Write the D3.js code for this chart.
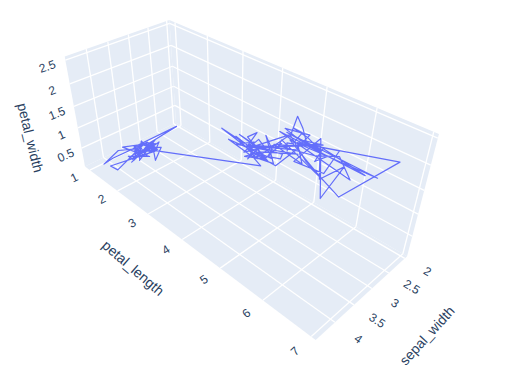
<!DOCTYPE html>
<html>
<head>
<meta charset="utf-8">
<title>Iris 3D line</title>
<script src="https://cdn.jsdelivr.net/npm/d3@7"></script>
<style>
  body { margin: 0; background: #fff; }
  text { font-family: "Liberation Sans", Arial, sans-serif; fill: #2a3f5f; text-anchor: middle; dominant-baseline: central; }
</style>
</head>
<body>
<script>
var width = 505,
  height = 376;

var petalLength = [
  1.4,1.4,1.3,1.5,1.4,1.7,1.4,1.5,1.4,1.5,1.5,1.6,1.4,1.1,1.2,1.5,1.3,1.4,1.7,1.5,1.7,1.5,1.0,1.7,1.9,
  1.6,1.6,1.5,1.4,1.6,1.6,1.5,1.5,1.4,1.5,1.2,1.3,1.5,1.3,1.5,1.3,1.3,1.3,1.6,1.9,1.4,1.6,1.4,1.5,1.4,
  4.7,4.5,4.9,4.0,4.6,4.5,4.7,3.3,4.6,3.9,3.5,4.2,4.0,4.7,3.6,4.4,4.5,4.1,4.5,3.9,4.8,4.0,4.9,4.7,4.3,
  4.4,4.8,5.0,4.5,3.5,3.8,3.7,3.9,5.1,4.5,4.5,4.7,4.4,4.1,4.0,4.4,4.6,4.0,3.3,4.2,4.2,4.2,4.3,3.0,4.1,
  6.0,5.1,5.9,5.6,5.8,6.6,4.5,6.3,5.8,6.1,5.1,5.3,5.5,5.0,5.1,5.3,5.5,6.7,6.9,5.0,5.7,4.9,6.7,4.9,5.7,
  6.0,4.8,4.9,5.6,5.8,6.1,6.4,5.6,5.1,5.6,6.1,5.6,5.5,4.8,5.4,5.6,5.1,5.1,5.9,5.7,5.2,5.0,5.2,5.4,5.1
];
var sepalWidth = [
  3.5,3.0,3.2,3.1,3.6,3.9,3.4,3.4,2.9,3.1,3.7,3.4,3.0,3.0,4.0,4.4,3.9,3.5,3.8,3.8,3.4,3.7,3.6,3.3,3.4,
  3.0,3.4,3.5,3.4,3.2,3.1,3.4,4.1,4.2,3.1,3.2,3.5,3.1,3.0,3.4,3.5,2.3,3.2,3.5,3.8,3.0,3.8,3.2,3.7,3.3,
  3.2,3.2,3.1,2.3,2.8,2.8,3.3,2.4,2.9,2.7,2.0,3.0,2.2,2.9,2.9,3.1,3.0,2.7,2.2,2.5,3.2,2.8,2.5,2.8,2.9,
  3.0,2.8,3.0,2.9,2.6,2.4,2.4,2.7,2.7,3.0,3.4,3.1,2.3,3.0,2.5,2.6,3.0,2.6,2.3,2.7,3.0,2.9,2.9,2.5,2.8,
  3.3,2.7,3.0,2.9,3.0,3.0,2.5,2.9,2.5,3.6,3.2,2.7,3.0,2.5,2.8,3.2,3.0,3.8,2.6,2.2,3.2,2.8,2.8,2.7,3.3,
  3.2,2.8,3.0,2.8,3.0,2.8,3.8,2.8,2.8,2.6,3.0,3.4,3.1,3.0,3.1,3.1,3.1,2.7,3.2,3.3,3.0,2.5,3.0,3.4,3.0
];
var petalWidth = [
  0.2,0.2,0.2,0.2,0.2,0.4,0.3,0.2,0.2,0.1,0.2,0.2,0.1,0.1,0.2,0.4,0.4,0.3,0.3,0.3,0.2,0.4,0.2,0.5,0.2,
  0.2,0.4,0.2,0.2,0.2,0.2,0.4,0.1,0.2,0.1,0.2,0.2,0.1,0.2,0.2,0.3,0.3,0.2,0.6,0.4,0.3,0.2,0.2,0.2,0.2,
  1.4,1.5,1.5,1.3,1.5,1.3,1.6,1.0,1.3,1.4,1.0,1.5,1.0,1.4,1.3,1.4,1.5,1.0,1.5,1.1,1.8,1.3,1.5,1.2,1.3,
  1.4,1.4,1.7,1.5,1.0,1.1,1.0,1.2,1.6,1.5,1.6,1.5,1.3,1.3,1.3,1.2,1.4,1.2,1.0,1.3,1.2,1.3,1.3,1.1,1.3,
  2.5,1.9,2.1,1.8,2.2,2.1,1.7,1.8,1.8,2.5,2.0,1.9,2.1,2.0,2.4,2.3,1.8,2.2,2.3,1.5,2.3,2.0,2.0,1.8,2.1,
  1.8,1.8,1.8,2.1,1.6,1.9,2.0,2.2,1.5,1.4,2.3,2.4,1.8,1.8,2.1,2.4,2.3,1.9,2.3,2.5,2.3,1.9,2.0,2.3,1.8
];
var petalLengthTicks = [1, 2, 3, 4, 5, 6, 7];
var sepalWidthTicks = [2, 2.5, 3, 3.5, 4];
var petalWidthTicks = [0.5, 1, 1.5, 2, 2.5];

// box coordinates -> screen, fitted to the corners of the box in the picture
var camera = [
  [175.966, 123.5615, -99.7004, -25.4202],
  [122.6812, 65.827, 26.6365, -104.9],
  [1, -0.2642, -0.1028, -0.1113]
];

function project(u, v, w) {
  var c = camera.map(function (r) { return r[0] + r[1] * u + r[2] * v + r[3] * w; });
  return [c[0] / c[2], c[1] / c[2]];
}

// autorange pads every axis by 1/32 of the data span
function paddedScale(values) {
  var ext = d3.extent(values),
    pad = (ext[1] - ext[0]) / 32;
  return d3.scaleLinear().domain([ext[0] - pad, ext[1] + pad]).range([0, 1]);
}

var uScale = paddedScale(petalLength),
  vScale = paddedScale(sepalWidth),
  wScale = paddedScale(petalWidth);

var svg = d3.select('body').append('svg')
  .attr('width', width)
  .attr('height', height)
  .style('display', 'block');

var line = d3.line();

// back walls and floor
[
  [[0, 0, 0], [1, 0, 0], [1, 1, 0], [0, 1, 0]],
  [[0, 0, 0], [0, 1, 0], [0, 1, 1], [0, 0, 1]],
  [[0, 0, 0], [1, 0, 0], [1, 0, 1], [0, 0, 1]]
].forEach(function (wall) {
  svg.append('path')
    .attr('d', line(wall.map(function (p) { return project(p[0], p[1], p[2]); })) + 'Z')
    .attr('fill', '#E5ECF6');
});

function gridLine(a, b) {
  svg.append('path')
    .attr('d', line([project(a[0], a[1], a[2]), project(b[0], b[1], b[2])]))
    .attr('stroke', '#fff')
    .attr('stroke-width', 1.3)
    .attr('fill', 'none');
}

petalLengthTicks.forEach(function (t) {
  var u = uScale(t);
  gridLine([u, 0, 0], [u, 1, 0]);
  gridLine([u, 0, 0], [u, 0, 1]);
});
sepalWidthTicks.forEach(function (t) {
  var v = vScale(t);
  gridLine([0, v, 0], [1, v, 0]);
  gridLine([0, v, 0], [0, v, 1]);
});
petalWidthTicks.forEach(function (t) {
  var w = wScale(t);
  gridLine([0, 0, w], [0, 1, w]);
  gridLine([0, 0, w], [1, 0, w]);
});

// the trace
var points = petalLength.map(function (d, i) {
  return project(uScale(d), vScale(sepalWidth[i]), wScale(petalWidth[i]));
});
svg.append('path')
  .attr('d', line(points))
  .attr('fill', 'none')
  .attr('stroke', '#636efa')
  .attr('stroke-width', 1.2)
  .attr('stroke-linejoin', 'round');

// label sits at p and reads along the projected direction dir
function label(str, p, dir, size) {
  var a = project(p[0], p[1], p[2]),
    b = project(p[0] + dir[0] * 0.05, p[1] + dir[1] * 0.05, p[2] + dir[2] * 0.05),
    angle = Math.atan2(b[1] - a[1], b[0] - a[0]) * 180 / Math.PI;
  if (angle > 90) angle -= 180;
  if (angle < -90) angle += 180;
  svg.append('text')
    .attr('transform', 'translate(' + a[0] + ',' + a[1] + ') rotate(' + angle + ')')
    .attr('font-size', size)
    .text(str);
}

petalLengthTicks.forEach(function (t) {
  label(t, [uScale(t), 1.15, 0], [0, 1, 0], 12);
});
sepalWidthTicks.forEach(function (t) {
  label(t, [1.07, vScale(t), 0], [1, 0, 0], 12);
});
petalWidthTicks.forEach(function (t) {
  label(t, [0, 1.15, wScale(t)], [0, 1, 0], 12);
});

label('petal_length', [0.5, 1.42, 0], [1, 0, 0], 14);
label('sepal_width', [1.18, 0.5, 0], [0, 1, 0], 14);
label('petal_width', [0, 1.4, 0.47], [0, 0, 1], 14);
</script>
</body>
</html>
